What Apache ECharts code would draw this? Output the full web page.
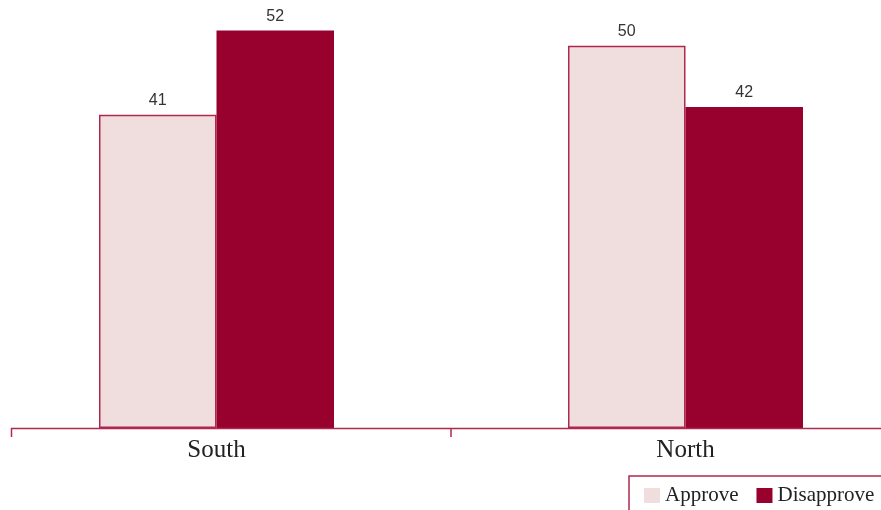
<!DOCTYPE html>
<html>
<head>
<meta charset="utf-8">
<script src="https://cdn.jsdelivr.net/npm/echarts@6/dist/echarts.min.js"></script>
<style>
  html, body { margin: 0; padding: 0; background: #fff; overflow: hidden; width: 881px; height: 510px; }
  /* The plot runs a little past both edges of the page, so the canvas is wider than the window */
  #chart { position: absolute; left: -18px; top: 0; width: 938px; height: 510px; }
</style>
</head>
<body>
<div id="chart"></div>
<script>
// Regions and approval shares (percent)
const regions = ['South', 'North'];
const approve = [41, 50];
const disapprove = [52, 42];
const seriesNames = ['Approve', 'Disapprove'];

const RED = '#98002e';
const PINK = '#f0dddd';
const EDGE = '#b0284e';
const SHIFT = 18; // canvas offset relative to the page

const chart = echarts.init(document.getElementById('chart'));

const valueLabel = {
  show: true,
  position: 'top',
  distance: 6,
  fontFamily: '"Liberation Sans", Arial, sans-serif',
  fontSize: 16,
  color: '#333'
};

chart.setOption({
  animation: false,
  backgroundColor: '#ffffff',
  grid: { left: 0, right: 0, top: 0, bottom: 82 },
  legend: {
    data: seriesNames,
    left: 629 + SHIFT,
    top: 476,
    orient: 'horizontal',
    icon: 'rect',
    itemWidth: 16,
    itemHeight: 15,
    itemGap: 18,
    itemStyle: { borderWidth: 0 },
    padding: [9, 40, 40, 15],
    borderColor: EDGE,
    borderWidth: 1.5,
    textStyle: { fontFamily: 'Liberation Serif', fontSize: 21, color: '#222' }
  },
  xAxis: {
    type: 'category',
    data: regions,
    axisLine: { show: false },
    axisTick: { show: true, length: 9, lineStyle: { color: EDGE, width: 1.5 } },
    axisLabel: { fontFamily: 'Liberation Serif', fontSize: 25, color: '#222', margin: 10 }
  },
  yAxis: {
    type: 'value',
    min: 0,
    max: 56,
    show: false,
    splitLine: { show: false }
  },
  series: [
    {
      name: seriesNames[0],
      type: 'bar',
      data: approve,
      barWidth: 117.5,
      barGap: '0%',
      itemStyle: { color: PINK, borderColor: EDGE, borderWidth: 1.5 },
      label: valueLabel
    },
    {
      name: seriesNames[1],
      type: 'bar',
      data: disapprove,
      barWidth: 117.5,
      barGap: '0%',
      itemStyle: { color: RED },
      label: valueLabel
    }
  ],
  graphic: [
    // baseline of the category axis and its left end tick
    { type: 'line', z: 100, shape: { x1: 11 + SHIFT, y1: 428.5, x2: 881 + SHIFT, y2: 428.5 }, style: { stroke: EDGE, lineWidth: 1.5 } },
    { type: 'line', z: 100, shape: { x1: 11.5 + SHIFT, y1: 428, x2: 11.5 + SHIFT, y2: 437 }, style: { stroke: EDGE, lineWidth: 1.5 } }
  ]
});
</script>
</body>
</html>
